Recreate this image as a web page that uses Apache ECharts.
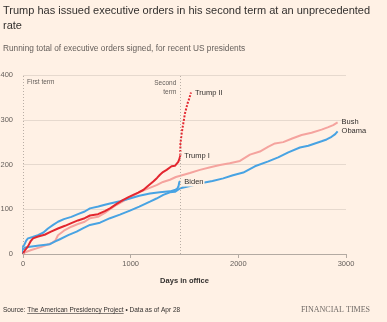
<!DOCTYPE html>
<html>
<head>
<meta charset="utf-8">
<script src="https://cdn.jsdelivr.net/npm/echarts@6/dist/echarts.min.js"></script>
<style>
  html, body { margin: 0; padding: 0; background: #fff1e5; }
  #chart { width: 387px; height: 322px; }
</style>
</head>
<body>
<div id="chart"></div>
<script>
// Running totals of executive orders: [day in office, cumulative orders]
const bushDays   = [0, 20, 77, 170, 263, 300, 325, 380, 449, 510, 573, 622, 697, 760, 808, 870, 931, 1000, 1086, 1160, 1241, 1300, 1365, 1420, 1461, 1550, 1643, 1740, 1829, 1920, 2015, 2108, 2200, 2280, 2340, 2417, 2500, 2588, 2680, 2773, 2830, 2881, 2922];
const bushOrders = [0, 4, 9, 16, 24, 30, 42, 52, 61, 67, 72, 80, 83, 92, 100, 110, 118, 127, 139, 146, 154, 161, 166, 172, 175, 181, 188, 194, 199, 203, 208, 222, 229, 240, 247, 250, 258, 266, 271, 278, 283, 288, 294];

const obamaDays   = [0, 3, 10, 65, 150, 250, 300, 343, 420, 498, 560, 622, 715, 808, 900, 993, 1080, 1179, 1240, 1303, 1365, 1411, 1461, 1550, 1674, 1760, 1860, 1950, 2046, 2154, 2278, 2370, 2464, 2572, 2650, 2773, 2820, 2866, 2900, 2922];
const obamaOrders = [0, 9, 14, 16, 19, 22, 28, 33, 42, 50, 58, 65, 70, 80, 88, 97, 106, 117, 124, 132, 138, 139, 147, 152, 159, 163, 169, 176, 182, 196, 207, 216, 227, 238, 242, 252, 256, 262, 268, 274];

const bidenDays   = [0, 1, 15, 30, 46, 90, 139, 190, 232, 280, 325, 380, 449, 510, 573, 622, 700, 760, 808, 900, 993, 1080, 1179, 1270, 1365, 1410, 1433, 1445, 1452, 1461];
const bidenOrders = [0, 17, 22, 30, 35, 38, 42, 48, 57, 65, 72, 78, 83, 89, 95, 102, 106, 110, 113, 118, 124, 130, 135, 138, 140, 143, 146, 152, 161, 162];

const trump1Days   = [0, 10, 30, 46, 70, 93, 140, 201, 260, 325, 390, 449, 510, 573, 622, 697, 760, 808, 870, 931, 980, 1024, 1070, 1117, 1160, 1210, 1245, 1272, 1300, 1334, 1380, 1411, 1442, 1455, 1461];
const trump1Orders = [0, 6, 12, 17, 28, 35, 39, 43, 50, 57, 63, 69, 75, 80, 86, 89, 96, 102, 112, 121, 127, 132, 137, 143, 152, 162, 170, 177, 183, 188, 196, 197, 206, 214, 220];

const trump2Days   = [1461, 1462, 1466, 1474, 1489, 1504, 1516, 1529, 1545, 1560];
const trump2Orders = [220, 246, 255, 270, 292, 314, 325, 337, 348, 361];

const secondTermStart = 1461;
const xTicks = [0, 1000, 2000, 3000];
const yTicks = [0, 100, 200, 300, 400];

const FONT = '"Liberation Sans", Arial, sans-serif';
const INK = '#33302e';
const MUTED = '#66605c';
const PAPER = '#fff1e5';
const RED = '#e3262f';
const PINK = '#f5a39e';
const BLUE = '#48a3e3';

const zip = (xs, ys) => xs.map((x, i) => [x, ys[i]]);

function lineSeries(name, days, orders, color, extra) {
  return Object.assign({
    name: name,
    type: 'line',
    data: zip(days, orders),
    showSymbol: false,
    symbol: 'none',
    silent: true,
    animation: false,
    lineStyle: { color: color, width: 2 },
    endLabel: {
      show: true,
      formatter: name,
      distance: 4,
      color: INK,
      fontSize: 7.5,
      fontFamily: FONT
    }
  }, extra || {});
}

const option = {
  backgroundColor: PAPER,
  animation: false,
  title: [
    {
      text: 'Trump has issued executive orders in his second term at an unprecedented\nrate',
      left: 3, top: 3, padding: 0,
      textStyle: { fontFamily: FONT, fontSize: 11, fontWeight: 'normal', color: INK, lineHeight: 15 }
    },
    {
      text: 'Running total of executive orders signed, for recent US presidents',
      left: 3, top: 43.5, padding: 0,
      textStyle: { fontFamily: FONT, fontSize: 8.3, fontWeight: 'normal', color: MUTED, lineHeight: 10 }
    }
  ],
  grid: { left: 23, right: 41, top: 75, bottom: 68, containLabel: false, outerBoundsMode: 'none' },
  xAxis: {
    type: 'value',
    min: xTicks[0], max: xTicks[xTicks.length - 1], interval: 1000,
    name: 'Days in office',
    nameLocation: 'middle',
    nameGap: 23,
    nameTextStyle: { fontFamily: FONT, fontSize: 7.5, fontWeight: 'bold', color: INK },
    axisLine: { show: true, lineStyle: { color: '#b3aaa2', width: 1 } },
    axisTick: { show: true, length: 4, lineStyle: { color: '#b3aaa2' } },
    axisLabel: { margin: 6, fontFamily: FONT, fontSize: 7.5, color: MUTED, formatter: (v) => String(v) },
    splitLine: { show: false }
  },
  yAxis: {
    type: 'value',
    min: yTicks[0], max: yTicks[yTicks.length - 1], interval: 100,
    axisLine: { show: false },
    axisTick: { show: false },
    axisLabel: { margin: 10, fontFamily: FONT, fontSize: 7.5, color: MUTED, formatter: (v) => String(v) },
    splitLine: { show: true, lineStyle: { color: '#e6d9ce', width: 1 } }
  },
  series: [
    lineSeries('Bush', bushDays, bushOrders, PINK, {
      markLine: {
        silent: true,
        symbol: 'none',
        animation: false,
        label: { show: false },
        lineStyle: { color: '#b9aea5', type: [1, 2], width: 1 },
        data: [{ xAxis: 0 }, { xAxis: secondTermStart }]
      }
    }),
    lineSeries('Obama', obamaDays, obamaOrders, BLUE),
    lineSeries('Biden', bidenDays, bidenOrders, BLUE, {
      endLabel: {
        show: true, formatter: 'Biden', distance: 3, color: INK,
        fontSize: 7.5, fontFamily: FONT, backgroundColor: PAPER, padding: [1, 1]
      }
    }),
    lineSeries('Trump I', trump1Days, trump1Orders, RED),
    lineSeries('Trump II', trump2Days, trump2Orders, RED, {
      lineStyle: { color: RED, width: 2, type: [2, 1.5] }
    })
  ]
};

const chart = echarts.init(document.getElementById('chart'), null, { renderer: 'canvas' });
chart.setOption(option);

// Term annotations, placed against the axes
const [xFirst, yTop] = chart.convertToPixel({ gridIndex: 0 }, [0, yTicks[yTicks.length - 1]]);
const [xSecond] = chart.convertToPixel({ gridIndex: 0 }, [secondTermStart, yTicks[yTicks.length - 1]]);

// Footer widths measured with the same font
const measure = document.createElement('canvas').getContext('2d');
const srcFont = '6.5px ' + FONT;
measure.font = srcFont;
const srcA = 'Source: ';
const srcB = 'The American Presidency Project';
const srcC = ' \u2022 Data as of Apr 28';
const wA = measure.measureText(srcA).width;
const wB = measure.measureText(srcB).width;
const footY = 310;

chart.setOption({
  graphic: [
    {
      type: 'text', left: xFirst + 4, top: yTop + 4, silent: true,
      style: { text: 'First term', font: '6.5px ' + FONT, fill: MUTED }
    },
    {
      type: 'text', x: xSecond - 4, y: yTop + 4, silent: true,
      style: { text: 'Second\nterm', font: '6.5px ' + FONT, fill: MUTED, align: 'right', verticalAlign: 'top', lineHeight: 9 }
    },
    {
      type: 'text', x: 3, y: footY, silent: true,
      style: { text: srcA, font: srcFont, fill: INK, verticalAlign: 'middle' }
    },
    {
      type: 'text', x: 3 + wA, y: footY, silent: true,
      style: { text: srcB, font: srcFont, fill: INK, verticalAlign: 'middle' }
    },
    {
      type: 'line', silent: true,
      shape: { x1: 3 + wA, y1: footY + 3.5, x2: 3 + wA + wB, y2: footY + 3.5 },
      style: { stroke: INK, lineWidth: 0.6 }
    },
    {
      type: 'text', x: 3 + wA + wB, y: footY, silent: true,
      style: { text: srcC, font: srcFont, fill: INK, verticalAlign: 'middle' }
    },
    {
      type: 'text', x: 370, y: footY, silent: true,
      style: { text: 'FINANCIAL TIMES', font: '8px "Liberation Serif", "DejaVu Serif", serif', fill: '#706a66', align: 'right', verticalAlign: 'middle' }
    }
  ]
});
</script>
</body>
</html>
